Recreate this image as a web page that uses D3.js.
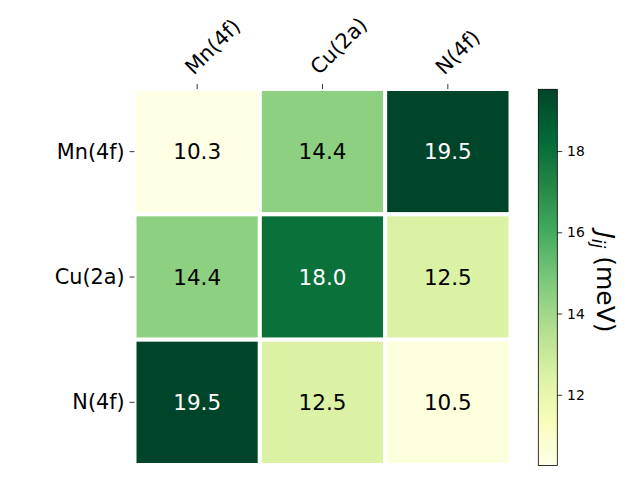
<!DOCTYPE html>
<html><head><meta charset="utf-8">
<script src="https://cdn.jsdelivr.net/npm/d3@7"></script>
<style>body{margin:0;background:#fff}svg{display:block}text{font-family:"DejaVu Sans",sans-serif}</style>
</head><body>
<svg id="c" width="640" height="480"></svg>
<script>
const rowLabels = ["Mn(4f)", "Cu(2a)", "N(4f)"];
const colLabels = ["Mn(4f)", "Cu(2a)", "N(4f)"];
const rowMn = [10.26, 14.4, 19.52];
const rowCu = [14.4, 18.0, 12.5];
const rowN  = [19.52, 12.5, 10.5];
const matrix = [rowMn, rowCu, rowN];
const cbTicks = [12, 14, 16, 18];
const cbLabel = "(meV)";

(function(){
const svg = d3.select("#c");
const ax = {x0: 134.5, x1: 510.5, y0: 89, y1: 465};
const x = d3.scaleBand().domain(colLabels.map((d,i)=>i)).range([ax.x0, ax.x1]);
const y = d3.scaleBand().domain(rowLabels.map((d,i)=>i)).range([ax.y0, ax.y1]);
const all = matrix.flat();
const ext = d3.extent(all);
const ylgn = ["#ffffe5","#f7fcb9","#d9f0a3","#addd8e","#78c679","#41ab5d","#238443","#006837","#004529"];
const cmap = d3.scaleLinear().domain(d3.range(ylgn.length).map(i => ext[0] + (ext[1]-ext[0])*i/(ylgn.length-1))).range(ylgn).interpolate(d3.interpolateRgb).clamp(true);

const cells = [];
matrix.forEach((r,i)=>r.forEach((v,j)=>cells.push({i,j,v})));
svg.append("g").selectAll("rect").data(cells).join("rect")
  .attr("x", d=>x(d.j)).attr("y", d=>y(d.i))
  .attr("width", x.bandwidth()).attr("height", y.bandwidth())
  .attr("fill", d=>cmap(d.v)).attr("stroke", "#fff").attr("stroke-width", 4);
svg.append("g").selectAll("text").data(cells).join("text")
  .attr("x", d=>x(d.j)+x.bandwidth()/2).attr("y", d=>y(d.i)+y.bandwidth()/2)
  .attr("text-anchor","middle").attr("dominant-baseline","central")
  .attr("font-size", 21.5)
  .attr("fill", d=> d3.hsl(cmap(d.v)).l < 0.4 ? "#fff" : "#000")
  .text(d=>d3.format(".1f")(d.v));

// top axis
const gTop = svg.append("g");
colLabels.forEach((lab,j)=>{
  const cx = x(j)+x.bandwidth()/2;
  gTop.append("line").attr("x1",cx).attr("x2",cx).attr("y1",ax.y0-4.9).attr("y2",ax.y0).attr("stroke","#000").attr("stroke-width",0.8);
  gTop.append("text").attr("transform",`translate(${cx},${ax.y0-9.8}) rotate(-45)`)
    .attr("y",-5).attr("font-size",20.8).attr("text-anchor","start").text(lab);
});
// left axis
const gLeft = svg.append("g");
rowLabels.forEach((lab,i)=>{
  const ry = y(i)+y.bandwidth()/2;
  gLeft.append("line").attr("x1",ax.x0-4.9).attr("x2",ax.x0).attr("y1",ry).attr("y2",ry).attr("stroke","#000").attr("stroke-width",0.8);
  gLeft.append("text").attr("x",ax.x0-9.8).attr("y",ry).attr("font-size",20.8)
    .attr("text-anchor","end").attr("dominant-baseline","central").text(lab);
});

// colorbar
const cb = {x0: 538.3, x1: 557.3, y0: 89.3, y1: 465.5};
const cbs = d3.scaleLinear().domain(ext).range([cb.y1, cb.y0]);
const defs = svg.append("defs");
const grad = defs.append("linearGradient").attr("id","g").attr("x1",0).attr("y1",1).attr("x2",0).attr("y2",0);
d3.range(0,1.0001,0.02).forEach(t=>{
  grad.append("stop").attr("offset",t).attr("stop-color",cmap(ext[0]+(ext[1]-ext[0])*t));
});
svg.append("rect").attr("x",cb.x0).attr("y",cb.y0).attr("width",cb.x1-cb.x0).attr("height",cb.y1-cb.y0)
  .attr("fill","url(#g)").attr("stroke","#000").attr("stroke-width",0.8);
const cax = svg.append("g").attr("transform",`translate(${cb.x1},0)`)
  .call(d3.axisRight(cbs).tickValues(cbTicks).tickSize(4.9).tickPadding(4.9).tickFormat(d3.format("d")));
cax.select(".domain").remove();
cax.selectAll("line").attr("stroke-width",0.8);
cax.selectAll("text").attr("font-size",13.9).attr("font-family","DejaVu Sans").attr("fill","#000");

const lab = svg.append("text").attr("transform","translate(597,282) rotate(90)")
  .attr("text-anchor","middle").attr("font-size",25);
lab.append("tspan").attr("font-style","italic").text("J");
lab.append("tspan").attr("font-style","italic").attr("font-size",17).attr("dy",5).text("ij");
lab.append("tspan").attr("dy",-5).text(" " + cbLabel);
})();
</script>
</body></html>
